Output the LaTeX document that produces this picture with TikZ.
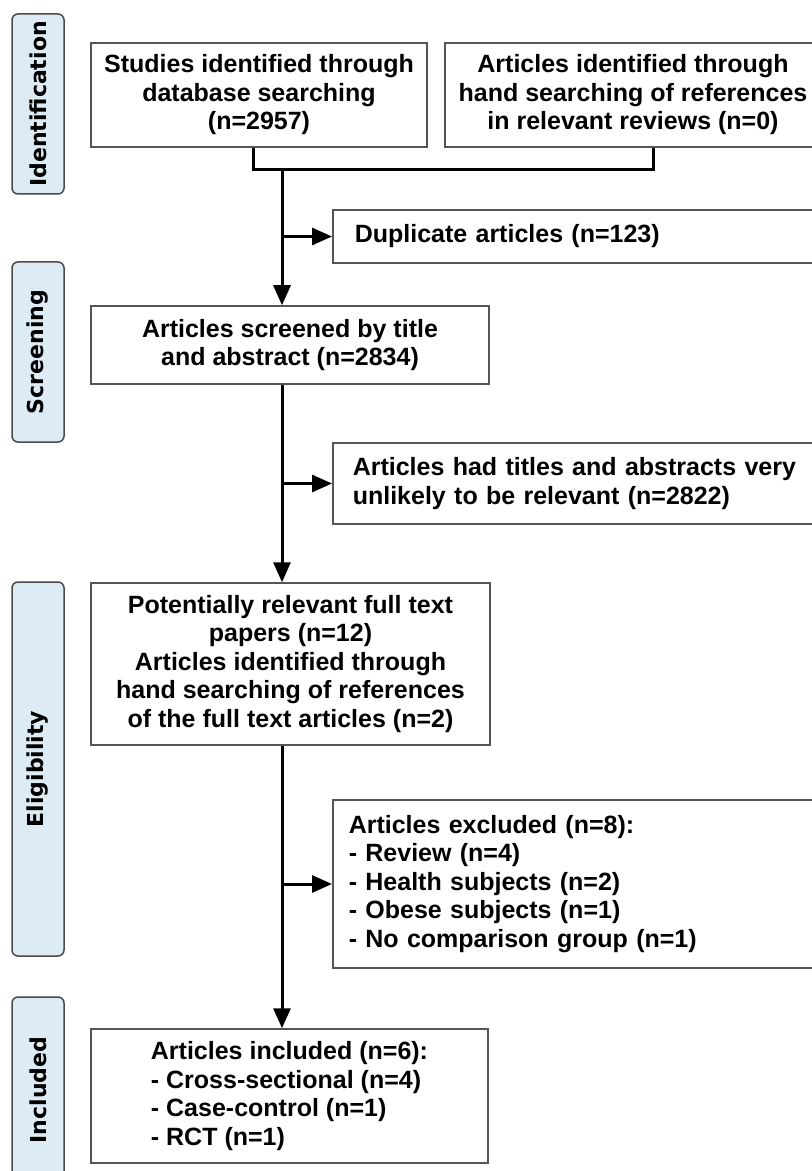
\documentclass[tikz,border=0pt]{standalone}
\usepackage{fontspec}
\setmainfont{Liberation Sans}
\newfontfamily\tabfont{DejaVu Sans}
\usetikzlibrary{arrows.meta}

\definecolor{boxgray}{HTML}{555555}
\definecolor{tabblue}{HTML}{DDEBF5}
\definecolor{tabgray}{HTML}{4A4A4A}

\tikzset{
    box/.style = {draw = boxgray, line width = 0.75pt, inner sep = 0pt,
        font = \bfseries\fontsize{12.5}{14.25}\selectfont},
    sidebox/.style = {box, align = left, anchor = west},
    tab/.style = {draw = tabgray, fill = tabblue, line width = 0.75pt,
        rounded corners = 3pt, rotate = 90, minimum height = 26pt, inner sep = 0pt,
        font = \tabfont\bfseries\fontsize{11}{13}\selectfont},
    conn/.style = {line width = 1.5pt},
    arr/.style = {conn, -{Triangle[length = 10pt, width = 8.5pt]}}
}

\begin{document}
\begin{tikzpicture}[x = 0.5pt, y = -0.5pt]
                \useasboundingbox (0,0) rectangle (811,1171);
                % stage tabs
                \node[style = tab, minimum width = 90pt] (tabid) at (38,104) {Identification};
                \node[style = tab, minimum width = 90pt] (tabscr) at (38,352) {Screening};
                \node[style = tab, minimum width = 187pt] (tabelig) at (38,769) {Eligibility};
                \node[style = tab, minimum width = 93pt] (tabincl) at (38,1090) {Included};
                % main column
                \node[style = box, align = center, minimum width = 168pt, minimum height = 52pt] (studies) at (259,95)
                    {Studies identified through\\database searching\\(n=2957)};
                \node[style = box, align = center, minimum width = 188pt, minimum height = 52pt] (handref) at (633,95)
                    {Articles identified through\\hand searching of references\\in relevant reviews (n=0)};
                \node[style = box, align = center, minimum width = 199pt, minimum height = 39pt] (screened) at (290,345)
                    {Articles screened by title\\and abstract (n=2834)};
                \node[style = box, align = center, minimum width = 199.5pt, minimum height = 81pt] (fulltext) at (290.5,664)
                    {Potentially relevant full text\\papers (n=12)\\Articles identified through\\hand searching of references\\of the full text articles (n=2)};
                \node[style = box, align = left, minimum width = 198.5pt, minimum height = 67pt] (included) at (289.5,1096)
                    {Articles included (n=6):\\- Cross-sectional (n=4)\\- Case-control (n=1)\\- RCT (n=1)};
                % side column
                \node[style = sidebox, inner xsep = 11pt, text width = 227pt, minimum height = 26.5pt] (dupl) at (332,236.5)
                    {Duplicate articles (n=123)};
                \node[style = sidebox, inner xsep = 10pt, text width = 229pt, minimum height = 40.5pt] (unlikely) at (332,483.5)
                    {Articles had titles and abstracts very\\unlikely to be relevant (n=2822)};
                \node[style = sidebox, inner xsep = 8pt, text width = 233pt, minimum height = 84pt] (excluded) at (332,884)
                    {Articles excluded (n=8):\\- Review (n=4)\\- Health subjects (n=2)\\- Obese subjects (n=1)\\- No comparison group (n=1)};
                % connectors
                \coordinate (join) at (282,170);
                \draw[style = conn] ([xshift = -3pt]studies.south) |- (join) -| ([xshift = 10pt]handref.south);
                \draw[style = arr] (join) -- (join |- screened.north);
                \draw[style = arr] (join |- dupl.west) -- (dupl.west);
                \draw[style = arr] (join |- screened.south) -- (join |- fulltext.north);
                \draw[style = arr] (join |- unlikely.west) -- (unlikely.west);
                \draw[style = arr] (join |- fulltext.south) -- (join |- included.north);
                \draw[style = arr] (join |- excluded.west) -- (excluded.west);
            \end{tikzpicture}
\end{document}
